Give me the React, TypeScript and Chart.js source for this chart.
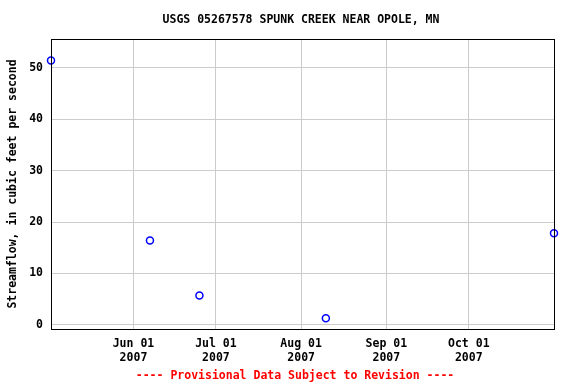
import React, { useEffect, useRef } from "react";
import { Chart, registerables } from "chart.js";

Chart.register(...registerables);

// Day-of-year (2007) for each observation
const obsDays = [122, 158, 176, 222, 305];
const obsValues = [51.4, 16.4, 5.7, 1.3, 17.8];

const xTickDays = [152, 182, 213, 244, 274];
const xTickLabels = [
  ["Jun 01", "2007"],
  ["Jul 01", "2007"],
  ["Aug 01", "2007"],
  ["Sep 01", "2007"],
  ["Oct 01", "2007"],
];
const yTickValues = [0, 10, 20, 30, 40, 50];

const titleText = "USGS 05267578 SPUNK CREEK NEAR OPOLE, MN";
const yTitleText = "Streamflow, in cubic feet per second";
const footerText = "---- Provisional Data Subject to Revision ----";

const FONT = "'DejaVu Sans Mono', 'Liberation Mono', monospace";

const textPlugin = {
  id: "textPlugin",
  afterDraw(chart: any) {
    const { ctx, chartArea } = chart;
    ctx.save();
    ctx.strokeStyle = "#000";
    ctx.lineWidth = 1;
    ctx.strokeRect(
      Math.round(chartArea.left) + 0.5,
      Math.round(chartArea.top) + 0.5,
      Math.round(chartArea.right - chartArea.left),
      Math.round(chartArea.bottom - chartArea.top)
    );
    ctx.font = `bold 11.5px ${FONT}`;
    ctx.textAlign = "center";
    ctx.textBaseline = "middle";
    ctx.fillStyle = "#000";
    ctx.fillText(titleText, 301, 20);
    ctx.fillStyle = "#ff0000";
    ctx.fillText(footerText, 295, 376);
    ctx.restore();
  },
};

export default function App() {
  const ref = useRef<HTMLCanvasElement>(null);
  useEffect(() => {
    document.body.style.margin = "0";
    const chart = new Chart(ref.current!, {
      type: "scatter",
      data: {
        datasets: [
          {
            data: obsDays.map((d, i) => ({ x: d, y: obsValues[i] })),
            borderColor: "#0000ff",
            backgroundColor: "rgba(0,0,0,0)",
            pointRadius: 3.5,
            pointBorderWidth: 1.5,
            clip: false as any,
          },
        ],
      },
      options: {
        animation: false,
        responsive: false,
        layout: { padding: { top: 39, left: 0, right: 22, bottom: 0 } },
        plugins: {
          legend: { display: false },
          title: { display: false },
          tooltip: { enabled: false },
        },
        scales: {
          x: {
            type: "linear",
            min: 122,
            max: 305,
            afterFit: (s: any) => {
              s.height = 55;
            },
            afterBuildTicks: (s: any) => {
              s.ticks = xTickDays.map((v) => ({ value: v }));
            },
            grid: { color: "#cccccc", drawTicks: false },
            border: { display: false },
            ticks: {
              padding: 8,
              color: "#000",
              font: { family: FONT, size: 11.5, weight: "bold" },
              maxRotation: 0,
              autoSkip: false,
              callback: (v: any) => {
                const i = xTickDays.indexOf(Number(v));
                return i >= 0 ? xTickLabels[i] : "";
              },
            },
          },
          y: {
            type: "linear",
            min: -0.8,
            max: 55.6,
            afterFit: (s: any) => {
              s.width = 51;
            },
            afterBuildTicks: (s: any) => {
              s.ticks = yTickValues.map((v) => ({ value: v }));
            },
            grid: { color: "#cccccc", drawTicks: false },
            border: { display: false },
            title: {
              display: true,
              text: yTitleText,
              color: "#000",
              font: { family: FONT, size: 11.5, weight: "bold" },
              padding: { top: 6, bottom: 0 },
            },
            ticks: {
              padding: 8,
              color: "#000",
              font: { family: FONT, size: 11.5, weight: "bold" },
            },
          },
        },
      },
      plugins: [textPlugin],
    } as any);
    return () => chart.destroy();
  }, []);
  return (
    <div style={{ position: "absolute", left: 0, top: 0, width: 576, height: 384 }}>
      <canvas ref={ref} width={576} height={384} style={{ width: 576, height: 384 }} />
    </div>
  );
}
